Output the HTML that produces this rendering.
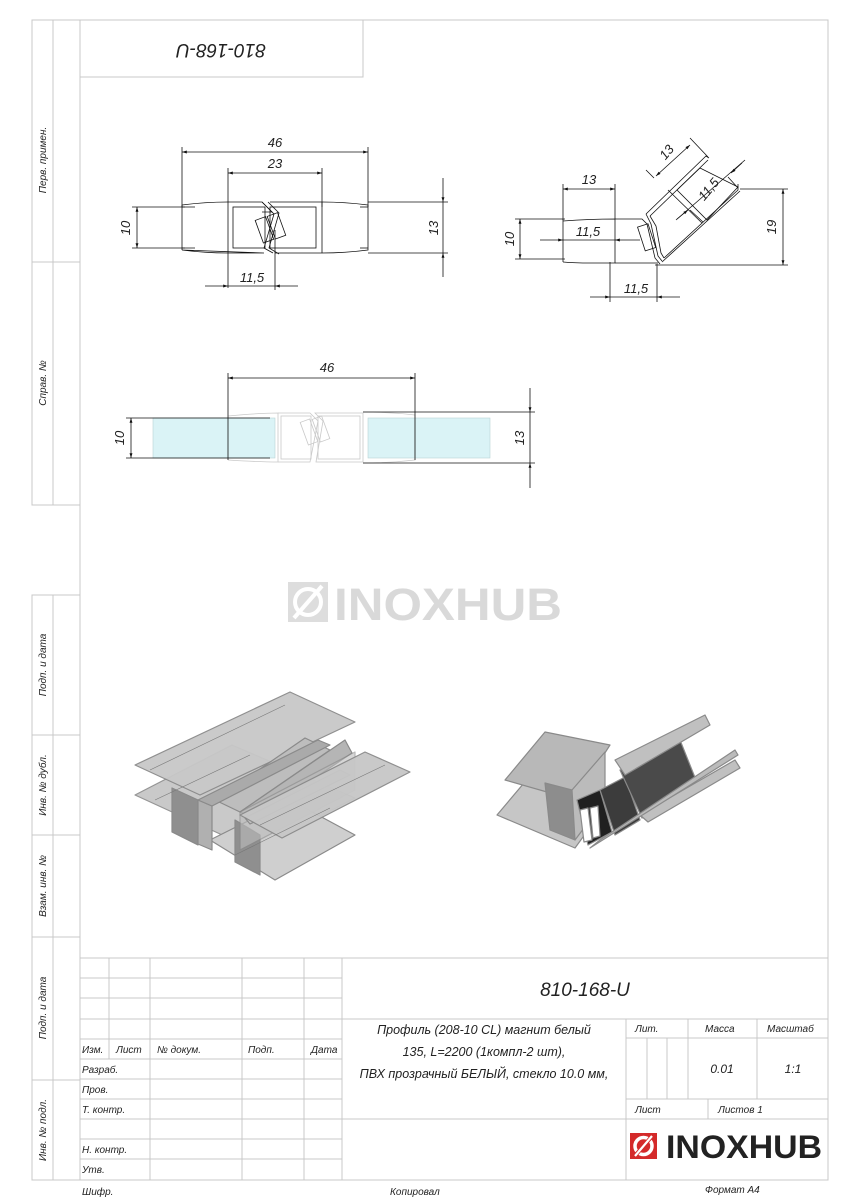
<!DOCTYPE html>
<html><head><meta charset="utf-8"><style>
html,body{margin:0;padding:0;background:#fff;}
svg{display:block;}
text{font-family:"Liberation Sans","DejaVu Sans",sans-serif;font-style:italic;fill:#222;}
</style></head><body>
<svg width="849" height="1200" viewBox="0 0 849 1200" xmlns="http://www.w3.org/2000/svg">
<defs>
<marker id="a" viewBox="0 0 10 10" refX="10" refY="5" markerWidth="9" markerHeight="6" orient="auto-start-reverse"><path d="M0,2 L10,5 L0,8 z" fill="#111"/></marker>
</defs>
<!-- frame -->
<g stroke="#c8c8c8" stroke-width="1" fill="none">
<rect x="80" y="20" width="748" height="1160"/>
<rect x="80" y="20" width="283" height="57"/>
<rect x="32" y="20" width="48" height="485"/>
<line x1="53" y1="20" x2="53" y2="505"/>
<line x1="32" y1="262" x2="80" y2="262"/>
<rect x="32" y="595" width="48" height="585"/>
<line x1="53" y1="595" x2="53" y2="1180"/>
<line x1="32" y1="735" x2="80" y2="735"/>
<line x1="32" y1="835" x2="80" y2="835"/>
<line x1="32" y1="937" x2="80" y2="937"/>
<line x1="32" y1="1080" x2="80" y2="1080"/>
<line x1="80" y1="958" x2="828" y2="958"/>
<line x1="80" y1="978" x2="342" y2="978"/>
<line x1="80" y1="998" x2="342" y2="998"/>
<line x1="80" y1="1019" x2="828" y2="1019"/>
<line x1="80" y1="1039" x2="342" y2="1039"/>
<line x1="626" y1="1038" x2="828" y2="1038"/>
<line x1="80" y1="1059" x2="342" y2="1059"/>
<line x1="80" y1="1079" x2="342" y2="1079"/>
<line x1="80" y1="1099" x2="342" y2="1099"/>
<line x1="626" y1="1099" x2="828" y2="1099"/>
<line x1="80" y1="1119" x2="828" y2="1119"/>
<line x1="80" y1="1139" x2="342" y2="1139"/>
<line x1="80" y1="1159" x2="342" y2="1159"/>
<line x1="109" y1="958" x2="109" y2="1059"/>
<line x1="150" y1="958" x2="150" y2="1180"/>
<line x1="242" y1="958" x2="242" y2="1180"/>
<line x1="304" y1="958" x2="304" y2="1180"/>
<line x1="342" y1="958" x2="342" y2="1180"/>
<line x1="626" y1="1019" x2="626" y2="1180"/>
<line x1="647" y1="1038" x2="647" y2="1099"/>
<line x1="667" y1="1038" x2="667" y2="1099"/>
<line x1="688" y1="1019" x2="688" y2="1099"/>
<line x1="757" y1="1019" x2="757" y2="1099"/>
<line x1="708" y1="1099" x2="708" y2="1119"/>
</g>
<text x="221" y="58" font-size="19" text-anchor="middle" transform="rotate(180 221 51)">810-168-U</text>
<g font-size="10">
<text transform="translate(46 160) rotate(-90)" text-anchor="middle">Перв. примен.</text>
<text transform="translate(46 383) rotate(-90)" text-anchor="middle">Справ. №</text>
<text transform="translate(46 665) rotate(-90)" text-anchor="middle">Подп. и дата</text>
<text transform="translate(46 785) rotate(-90)" text-anchor="middle">Инв. № дубл.</text>
<text transform="translate(46 886) rotate(-90)" text-anchor="middle">Взам. инв. №</text>
<text transform="translate(46 1008) rotate(-90)" text-anchor="middle">Подп. и дата</text>
<text transform="translate(46 1130) rotate(-90)" text-anchor="middle">Инв. № подл.</text>
</g>
<g font-size="10">
<text x="82" y="1053">Изм.</text><text x="116" y="1053">Лист</text><text x="157" y="1053">№ докум.</text><text x="248" y="1053">Подп.</text><text x="311" y="1053">Дата</text>
<text x="82" y="1073">Разраб.</text><text x="82" y="1093">Пров.</text><text x="82" y="1113">Т. контр.</text>
<text x="82" y="1153">Н. контр.</text><text x="82" y="1173">Утв.</text>
<text x="635" y="1032">Лит.</text><text x="705" y="1032">Масса</text><text x="767" y="1032">Масштаб</text>
<text x="635" y="1113">Лист</text><text x="718" y="1113">Листов 1</text>
<text x="82" y="1195">Шифр.</text><text x="390" y="1195">Копировал</text><text x="705" y="1193">Формат А4</text>
</g>
<text x="585" y="996" font-size="19" text-anchor="middle">810-168-U</text>
<g font-size="12.5" text-anchor="middle">
<text x="484" y="1034">Профиль (208-10 CL) магнит белый</text>
<text x="484" y="1056">135, L=2200 (1компл-2 шт),</text>
<text x="484" y="1078">ПВХ прозрачный БЕЛЫЙ, стекло 10.0 мм,</text>
</g>
<text x="722" y="1073" font-size="12" text-anchor="middle">0.01</text>
<text x="793" y="1073" font-size="12" text-anchor="middle">1:1</text>
<!-- bottom logo -->
<rect x="630" y="1133" width="27" height="26" fill="#d42a2a"/>
<circle cx="643.5" cy="1146" r="8.5" fill="none" stroke="#fff" stroke-width="3.5"/>
<line x1="634" y1="1157" x2="653" y2="1135" stroke="#d42a2a" stroke-width="4"/>
<line x1="635" y1="1156" x2="652" y2="1136" stroke="#fff" stroke-width="2.2"/>
<text x="666" y="1158" font-size="32" font-weight="bold" textLength="156" lengthAdjust="spacingAndGlyphs" style="font-style:normal;fill:#222">INOXHUB</text>
<!-- watermark -->
<g opacity="0.5">
<rect x="288" y="582" width="40" height="40" fill="#bdbdbd"/>
<circle cx="308" cy="602" r="13" fill="none" stroke="#fff" stroke-width="4"/>
<line x1="294" y1="618" x2="322" y2="586" stroke="#fff" stroke-width="4"/>
<text x="334" y="620" font-size="45" font-weight="bold" textLength="228" lengthAdjust="spacingAndGlyphs" style="font-style:normal;fill:#b5b5b5">INOXHUB</text>
</g>

<!-- Drawing 1 -->
<g stroke="#111" stroke-width="0.8" fill="none">
<line x1="182" y1="147" x2="182" y2="207"/><line x1="368" y1="147" x2="368" y2="207"/>
<line x1="182" y1="152" x2="368" y2="152" marker-start="url(#a)" marker-end="url(#a)"/>
<line x1="228" y1="168" x2="228" y2="288"/><line x1="322" y1="168" x2="322" y2="207"/>
<line x1="228" y1="173" x2="322" y2="173" marker-start="url(#a)" marker-end="url(#a)"/>
<line x1="132" y1="207" x2="185" y2="207"/><line x1="132" y1="248" x2="185" y2="248"/>
<line x1="137" y1="207" x2="137" y2="248" marker-start="url(#a)" marker-end="url(#a)"/>
<line x1="368" y1="202" x2="448" y2="202"/><line x1="368" y1="253" x2="448" y2="253"/>
<line x1="443" y1="178" x2="443" y2="202" marker-end="url(#a)"/>
<line x1="443" y1="277" x2="443" y2="253" marker-end="url(#a)"/>
<line x1="443" y1="202" x2="443" y2="253"/>
<line x1="275" y1="230" x2="275" y2="290"/>
<line x1="205" y1="286" x2="228" y2="286" marker-end="url(#a)"/>
<line x1="298" y1="286" x2="275" y2="286" marker-end="url(#a)"/>
<line x1="228" y1="286" x2="275" y2="286"/>
<path d="M182,205 Q205,202 228,202 L262,202 L272,212 L262,212 M264,253 L228,253 Q205,253 182,250 Z"/>
<path d="M182,207 L195,207 M182,248 L195,248"/>
<line x1="182" y1="205" x2="182" y2="250"/>
<rect x="233" y="207" width="32" height="41"/>
<path d="M262,202 L274,214 L264,248 L273,253"/>
<path d="M268,202 L279,213 L269,248 L279,254"/>
<path d="M270,202 L322,202 Q345,202 368,205 L368,250 Q345,253 322,253 L275,253"/>
<rect x="270" y="207" width="46" height="41"/>
<line x1="322" y1="202" x2="322" y2="253"/>
<line x1="360" y1="207" x2="368" y2="207"/><line x1="360" y1="248" x2="368" y2="248"/>
<rect x="259" y="218" width="11" height="24" transform="rotate(-20 264 230)"/>
<rect x="271" y="214" width="11" height="24" transform="rotate(-20 276 226)"/>
</g>
<g font-size="13">
<text x="275" y="147" text-anchor="middle">46</text>
<text x="275" y="168" text-anchor="middle">23</text>
<text x="252" y="282" text-anchor="middle">11,5</text>
<text transform="translate(130 228) rotate(-90)" text-anchor="middle">10</text>
<text transform="translate(438 228) rotate(-90)" text-anchor="middle">13</text>
</g>

<!-- Drawing 2 -->
<g stroke="#111" stroke-width="0.8" fill="none">
<line x1="563" y1="184" x2="563" y2="220"/><line x1="615" y1="184" x2="615" y2="219"/>
<line x1="563" y1="189" x2="615" y2="189" marker-start="url(#a)" marker-end="url(#a)"/>
<line x1="515" y1="219" x2="565" y2="219"/><line x1="515" y1="259" x2="565" y2="259"/>
<line x1="520" y1="219" x2="520" y2="259" marker-start="url(#a)" marker-end="url(#a)"/>
<line x1="540" y1="240" x2="563" y2="240" marker-end="url(#a)"/>
<line x1="640" y1="240" x2="615" y2="240" marker-end="url(#a)"/>
<line x1="563" y1="240" x2="615" y2="240"/>
<line x1="610" y1="262" x2="610" y2="302"/><line x1="657" y1="262" x2="657" y2="302"/>
<line x1="590" y1="297" x2="610" y2="297" marker-end="url(#a)"/>
<line x1="680" y1="297" x2="657" y2="297" marker-end="url(#a)"/>
<line x1="610" y1="297" x2="657" y2="297"/>
<line x1="740" y1="189" x2="788" y2="189"/><line x1="655" y1="265" x2="788" y2="265"/>
<line x1="783" y1="189" x2="783" y2="265" marker-start="url(#a)" marker-end="url(#a)"/>
<!-- 13 rotated -->
<line x1="708" y1="157" x2="690" y2="138"/>
<line x1="654" y1="178" x2="646" y2="170"/>
<line x1="656" y1="176" x2="690" y2="145" marker-start="url(#a)" marker-end="url(#a)"/>
<!-- 11.5 rotated -->
<line x1="738" y1="188" x2="728" y2="177"/>
<line x1="703" y1="222" x2="690" y2="210"/>
<line x1="676" y1="220" x2="745" y2="160"/>
<line x1="680" y1="217" x2="692" y2="207" marker-start="url(#a)" stroke-width="0"/>
<line x1="742" y1="163" x2="731" y2="173" marker-end="url(#a)"/>
<line x1="677" y1="219" x2="688" y2="210" marker-end="url(#a)"/>
<!-- profile -->
<path d="M563,221 Q590,219 615,219 L615,263 L590,263 Q575,263 563,262"/>
<line x1="563" y1="219" x2="563" y2="262"/>
<path d="M615,219 L642,219 L647,224 L655,258 L660,264 M615,263 L656,263"/>
<path d="M646,214 L706,156 L709,158 M650,216 L708,160"/>
<path d="M650,216 L656,226 L661,253 L664,258 M646,214 L651,224 L658,256 L662,261"/>
<path d="M664,258 L738,190 L738,184 M662,262 L740,191"/>
<path d="M668,190 L702,223"/>
<path d="M677,190 L700,168 L738,187 L707,220 Z" />
<rect x="641" y="225" width="11" height="25" transform="rotate(-18 646 237)"/>
</g>
<g font-size="13">
<text x="589" y="184" text-anchor="middle">13</text>
<text x="588" y="236" text-anchor="middle">11,5</text>
<text x="636" y="293" text-anchor="middle">11,5</text>
<text transform="translate(514 239) rotate(-90)" text-anchor="middle">10</text>
<text transform="translate(776 227) rotate(-90)" text-anchor="middle">19</text>
<text transform="translate(670 155) rotate(-50)" text-anchor="middle">13</text>
<text transform="translate(712 192) rotate(-50)" text-anchor="middle">11,5</text>
</g>

<!-- Drawing 3 -->
<rect x="153" y="418" width="122" height="40" fill="#daf3f6" stroke="#b9d3d6" stroke-width="0.6"/>
<rect x="368" y="418" width="122" height="40" fill="#daf3f6" stroke="#b9d3d6" stroke-width="0.6"/>
<g stroke="#c9c9c9" stroke-width="0.8" fill="none">
<path d="M228,416 Q260,413 278,413 L278,462 Q260,462 228,460"/>
<path d="M278,413 L310,413 L318,421 L310,462 L278,462"/>
<rect x="281" y="416" width="30" height="43"/>
<path d="M315,413 L323,421 L316,462 L363,462 L363,413 Z"/>
<rect x="318" y="416" width="42" height="43"/>
<path d="M363,412 Q390,412 415,415 L415,460 Q390,463 363,463"/>
<rect x="304" y="420" width="10" height="24" transform="rotate(-20 309 432)"/>
<rect x="316" y="417" width="10" height="24" transform="rotate(-20 321 429)"/>
</g>
<g stroke="#111" stroke-width="0.8" fill="none">
<line x1="228" y1="373" x2="228" y2="460"/><line x1="415" y1="373" x2="415" y2="460"/>
<line x1="228" y1="378" x2="415" y2="378" marker-start="url(#a)" marker-end="url(#a)"/>
<line x1="126" y1="418" x2="270" y2="418"/><line x1="126" y1="458" x2="270" y2="458"/>
<line x1="131" y1="418" x2="131" y2="458" marker-start="url(#a)" marker-end="url(#a)"/>
<line x1="363" y1="412" x2="535" y2="412"/><line x1="363" y1="463" x2="535" y2="463"/>
<line x1="530" y1="388" x2="530" y2="412" marker-end="url(#a)"/>
<line x1="530" y1="488" x2="530" y2="463" marker-end="url(#a)"/>
<line x1="530" y1="412" x2="530" y2="463"/>
</g>
<g font-size="13">
<text x="327" y="372" text-anchor="middle">46</text>
<text transform="translate(124 438) rotate(-90)" text-anchor="middle">10</text>
<text transform="translate(524 438) rotate(-90)" text-anchor="middle">13</text>
</g>

<!-- 3D render left -->
<g stroke="#8a8a8a" stroke-width="1.2" stroke-linejoin="round">
<polygon points="135,795 255,850 355,798 232,745" fill="#c4c4c4" opacity="0.9"/>
<polygon points="210,840 275,880 355,835 290,800" fill="#cfcfcf"/>
<polygon points="172,788 198,800 198,845 172,832" fill="#8f8f8f"/>
<polygon points="235,820 260,835 260,875 235,862" fill="#8f8f8f"/>
<polygon points="198,800 212,806 212,850 198,844" fill="#b0b0b0"/>
<polygon points="135,765 200,795 355,722 290,692" fill="#c8c8c8" opacity="0.95"/>
<polygon points="215,800 240,812 330,750 305,738" fill="#bdbdbd"/>
<polygon points="198,800 212,806 330,745 318,740" fill="#aaaaaa"/>
<polygon points="240,812 255,818 352,753 345,740" fill="#b5b5b5"/>
<polygon points="240,812 355,752 355,790 240,850" fill="#bcbcbc" opacity="0.6"/>
<polygon points="245,818 340,770 350,775 250,824" fill="#c2c2c2"/>
<polygon points="240,815 365,752 410,772 282,838" fill="#c7c7c7" opacity="0.95"/>
</g>
<g stroke="#777" stroke-width="0.6">
<line x1="150" y1="770" x2="285" y2="705"/><line x1="155" y1="800" x2="250" y2="755"/>
<line x1="235" y1="855" x2="330" y2="808"/><line x1="260" y1="825" x2="385" y2="765"/>
</g>
<!-- 3D render right -->
<g stroke="#8a8a8a" stroke-width="1.2" stroke-linejoin="round">
<polygon points="497,815 575,848 610,800 535,770" fill="#c6c6c6"/>
<polygon points="505,780 575,800 610,745 545,732" fill="#b8b8b8"/>
<polygon points="545,783 572,790 575,840 550,830" fill="#8d8d8d"/>
<polygon points="572,790 605,752 605,800 575,840" fill="#bbbbbb"/>
<polygon points="577,800 600,790 612,832 588,845" fill="#202020"/>
<polygon points="600,790 625,777 640,820 615,835" fill="#3c3c3c"/>
<polygon points="620,770 680,740 700,790 642,818" fill="#4a4a4a"/>
<polygon points="615,760 705,715 710,725 625,775" fill="#c0c0c0"/>
<polygon points="640,815 735,760 740,768 648,822" fill="#c0c0c0"/>
<polygon points="590,848 600,840 735,750 738,755" fill="#bbbbbb"/>
<polygon points="580,810 588,808 592,840 584,842" fill="#fff"/>
<polygon points="590,808 598,806 600,836 593,838" fill="#fff"/>
</g>
</svg>
</body></html>
